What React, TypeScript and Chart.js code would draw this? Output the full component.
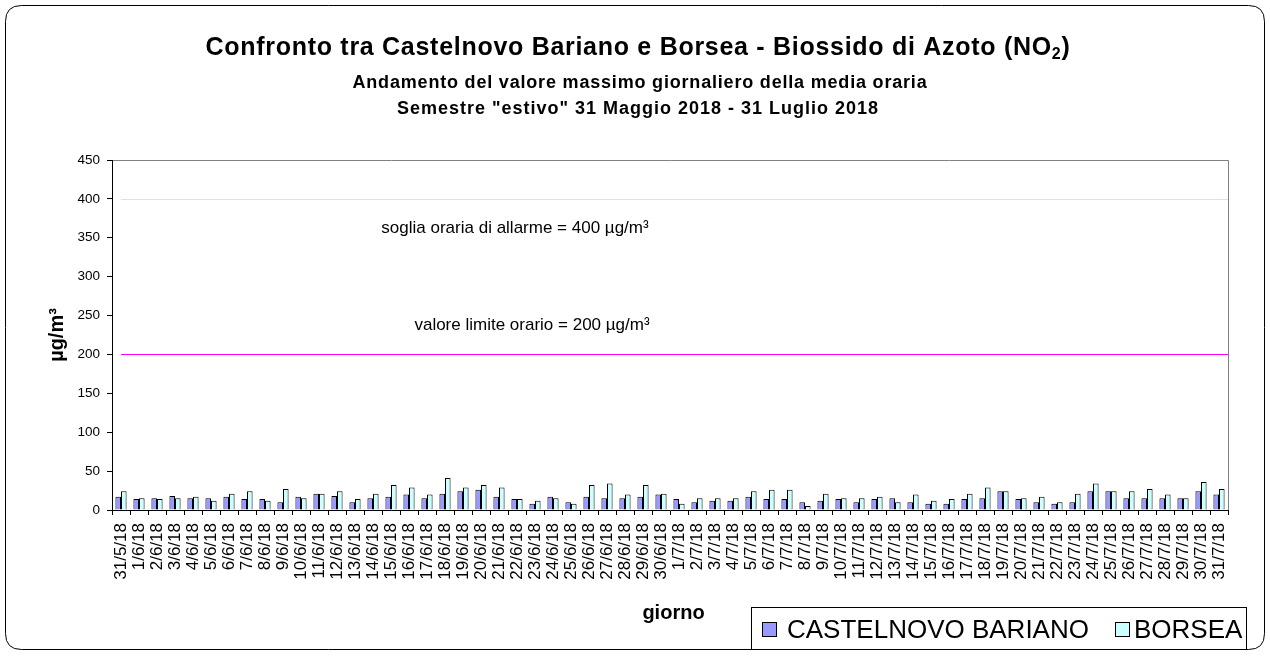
import React, { useEffect, useRef } from "react";
import { Chart, registerables } from "chart.js";

Chart.register(...registerables);

const labels: string[] = [
  "31/5/18", "1/6/18", "2/6/18", "3/6/18", "4/6/18", "5/6/18", "6/6/18", "7/6/18", "8/6/18", "9/6/18",
  "10/6/18", "11/6/18", "12/6/18", "13/6/18", "14/6/18", "15/6/18", "16/6/18", "17/6/18", "18/6/18", "19/6/18",
  "20/6/18", "21/6/18", "22/6/18", "23/6/18", "24/6/18", "25/6/18", "26/6/18", "27/6/18", "28/6/18", "29/6/18",
  "30/6/18", "1/7/18", "2/7/18", "3/7/18", "4/7/18", "5/7/18", "6/7/18", "7/7/18", "8/7/18", "9/7/18",
  "10/7/18", "11/7/18", "12/7/18", "13/7/18", "14/7/18", "15/7/18", "16/7/18", "17/7/18", "18/7/18", "19/7/18",
  "20/7/18", "21/7/18", "22/7/18", "23/7/18", "24/7/18", "25/7/18", "26/7/18", "27/7/18", "28/7/18", "29/7/18",
  "30/7/18", "31/7/18",
];

const castelnovo: number[] = [
  17, 14, 15, 18, 15, 15, 17, 14, 14, 10,
  17, 21, 18, 10, 15, 17, 20, 15, 21, 24,
  26, 17, 14, 8, 17, 10, 17, 15, 15, 17,
  20, 14, 10, 12, 12, 17, 14, 14, 10, 12,
  14, 10, 14, 15, 10, 8, 8, 14, 15, 24,
  14, 10, 8, 10, 24, 24, 15, 15, 15, 15,
  24, 20,
];

const borsea: number[] = [
  24, 15, 14, 15, 17, 12, 21, 24, 12, 27,
  15, 21, 24, 14, 21, 32, 29, 20, 41, 29,
  32, 29, 14, 12, 15, 8, 32, 34, 20, 32,
  21, 8, 15, 15, 15, 24, 26, 26, 5, 21,
  15, 15, 17, 10, 20, 12, 14, 21, 29, 24,
  15, 17, 10, 21, 34, 24, 24, 27, 20, 15,
  36, 27,
];

const yTicks: number[] = [0, 50, 100, 150, 200, 250, 300, 350, 400, 450];
const thresholdValues: number[] = [400, 200];
const thresholdColors: string[] = ["#FFFF00", "#FF00FF"];
const thresholdTexts: string[] = [
  "soglia oraria di allarme = 400 µg/m³",
  "valore limite orario = 200 µg/m³",
];
const seriesNames: string[] = ["CASTELNOVO BARIANO", "BORSEA"];
const seriesColors: string[] = ["#9999FF", "#CCFFFF"];

const FONT = "Arial, 'Liberation Sans', Helvetica, sans-serif";

function fitSpacing(ctx: any, text: string, target: number): number {
  ctx.letterSpacing = "0px";
  const w = ctx.measureText(text).width;
  const n = Math.max(1, text.length);
  return (target - w) / n;
}

function drawFitted(ctx: any, text: string, cx: number, y: number, target: number) {
  const sp = fitSpacing(ctx, text, target);
  ctx.letterSpacing = `${sp}px`;
  ctx.textAlign = "left";
  ctx.fillText(text, cx - target / 2, y);
  ctx.letterSpacing = "0px";
}

const decorPlugin = {
  id: "decor",
  beforeDraw(chart: any) {
    const ctx = chart.ctx;
    const W = chart.width;
    const H = chart.height;
    ctx.save();
    ctx.fillStyle = "#ffffff";
    ctx.fillRect(0, 0, W, H);
    // outer rounded border
    const x0 = 5.5, y0 = 5.5, x1 = W - 5.5, y1 = H - 6.5, r = 16;
    ctx.beginPath();
    ctx.moveTo(x0 + r, y0);
    ctx.lineTo(x1 - r, y0);
    ctx.quadraticCurveTo(x1, y0, x1, y0 + r);
    ctx.lineTo(x1, y1 - r);
    ctx.quadraticCurveTo(x1, y1, x1 - r, y1);
    ctx.lineTo(x0 + r, y1);
    ctx.quadraticCurveTo(x0, y1, x0, y1 - r);
    ctx.lineTo(x0, y0 + r);
    ctx.quadraticCurveTo(x0, y0, x0 + r, y0);
    ctx.closePath();
    ctx.strokeStyle = "#000";
    ctx.lineWidth = 1;
    ctx.stroke();

    // plot box (top and right edges)
    const a = chart.chartArea;
    ctx.strokeStyle = "#808080";
    ctx.beginPath();
    ctx.moveTo(Math.round(a.left) + 0.5, Math.round(a.top) + 0.5);
    ctx.lineTo(Math.round(a.right) + 0.5, Math.round(a.top) + 0.5);
    ctx.lineTo(Math.round(a.right) + 0.5, Math.round(a.bottom) + 0.5);
    ctx.stroke();

    // title with subscript
    ctx.fillStyle = "#000";
    ctx.textBaseline = "alphabetic";
    const mainA = "Confronto tra Castelnovo Bariano e Borsea - Biossido di Azoto (NO";
    const sub = "2";
    const mainB = ")";
    const tf = `bold 25px ${FONT}`;
    const sf = `bold 16px ${FONT}`;
    const targetTitle = 865;
    ctx.font = tf;
    ctx.letterSpacing = "0px";
    const wA0 = ctx.measureText(mainA).width;
    const wB0 = ctx.measureText(mainB).width;
    ctx.font = sf;
    const wS0 = ctx.measureText(sub).width;
    const nChars = mainA.length + sub.length + mainB.length;
    const sp = (targetTitle - (wA0 + wB0 + wS0)) / nChars;
    ctx.letterSpacing = `${sp}px`;
    ctx.font = tf;
    const wA = ctx.measureText(mainA).width;
    ctx.font = sf;
    const wS = ctx.measureText(sub).width;
    const tx = 638 - targetTitle / 2;
    const ty = 55;
    ctx.textAlign = "left";
    ctx.font = tf;
    ctx.fillText(mainA, tx, ty);
    ctx.font = sf;
    ctx.fillText(sub, tx + wA, ty + 4);
    ctx.font = tf;
    ctx.fillText(mainB, tx + wA + wS, ty);
    ctx.letterSpacing = "0px";

    ctx.font = `bold 18px ${FONT}`;
    drawFitted(ctx, "Andamento del valore massimo giornaliero della media oraria", 640, 88, 575);
    drawFitted(ctx, 'Semestre "estivo" 31 Maggio 2018 - 31 Luglio 2018', 638, 114, 482);

    // y axis title
    ctx.save();
    ctx.translate(57, 335);
    ctx.rotate(-Math.PI / 2);
    ctx.font = `bold 20px ${FONT}`;
    ctx.textAlign = "center";
    ctx.textBaseline = "middle";
    ctx.fillText("µg/m³", 0, 0);
    ctx.restore();

    // x axis title
    ctx.font = `bold 20px ${FONT}`;
    ctx.textAlign = "center";
    ctx.textBaseline = "alphabetic";
    ctx.fillText("giorno", 673.5, 619);

    // legend
    ctx.strokeStyle = "#000";
    ctx.lineWidth = 1;
    ctx.strokeRect(751.5, 607.5, 495, 42);
    ctx.font = `26px ${FONT}`;
    ctx.textAlign = "left";
    ctx.textBaseline = "alphabetic";
    const markers = [762, 1115];
    const textX = [787, 1134];
    for (let i = 0; i < 2; i++) {
      ctx.fillStyle = seriesColors[i];
      ctx.fillRect(markers[i] + 0.5, 622.5, 14, 14);
      ctx.strokeStyle = "#000";
      ctx.strokeRect(markers[i] + 0.5, 622.5, 14, 14);
      ctx.fillStyle = "#000";
      ctx.fillText(seriesNames[i], textX[i], 637.5);
    }
    ctx.restore();
  },
  beforeDatasetsDraw(chart: any) {
    const ctx = chart.ctx;
    const a = chart.chartArea;
    const xs = chart.scales.x;
    const ys = chart.scales.y;
    ctx.save();
    ctx.lineWidth = 1;
    const startX = xs.getPixelForValue(0);
    for (let i = 0; i < thresholdValues.length; i++) {
      const y = Math.round(ys.getPixelForValue(thresholdValues[i])) + 0.5;
      ctx.strokeStyle = thresholdColors[i];
      ctx.beginPath();
      ctx.moveTo(startX, y);
      ctx.lineTo(a.right, y);
      ctx.stroke();
    }
    ctx.fillStyle = "#000";
    ctx.font = `17px ${FONT}`;
    ctx.textAlign = "center";
    ctx.textBaseline = "middle";
    ctx.fillText(thresholdTexts[0], 515, 228);
    ctx.fillText(thresholdTexts[1], 532, 325);
    ctx.restore();
  },
};

export default function App() {
  const canvasRef = useRef<HTMLCanvasElement | null>(null);

  useEffect(() => {
    document.body.style.margin = "0";
    const canvas = canvasRef.current;
    if (!canvas) return;
    const chart = new Chart(canvas, {
      type: "bar",
      data: {
        labels,
        datasets: [
          {
            label: seriesNames[0],
            data: castelnovo,
            backgroundColor: seriesColors[0],
            borderColor: "#000",
            borderWidth: 1,
            categoryPercentage: 0.62,
            barPercentage: 1.0,
          },
          {
            label: seriesNames[1],
            data: borsea,
            backgroundColor: seriesColors[1],
            borderColor: "#000",
            borderWidth: 1,
            categoryPercentage: 0.62,
            barPercentage: 1.0,
          },
        ],
      },
      options: {
        responsive: false,
        animation: false,
        devicePixelRatio: 1,
        layout: { padding: { left: 0, top: 160, right: 42, bottom: 0 } },
        plugins: {
          legend: { display: false },
          title: { display: false },
          tooltip: { enabled: false },
        },
        scales: {
          x: {
            afterFit: (s: any) => {
              s.height = 146;
            },
            grid: {
              display: true,
              drawOnChartArea: false,
              drawTicks: true,
              tickLength: 5,
              color: "#000",
              offset: true,
            },
            border: { display: true, color: "#000", width: 1 },
            ticks: {
              autoSkip: false,
              minRotation: 90,
              maxRotation: 90,
              padding: 8,
              color: "#000",
              font: { family: FONT, size: 17 },
            },
          },
          y: {
            min: 0,
            max: 450,
            afterFit: (s: any) => {
              s.width = 112;
            },
            afterBuildTicks: (s: any) => {
              s.ticks = yTicks.map((v) => ({ value: v }));
            },
            grid: {
              display: true,
              drawOnChartArea: false,
              drawTicks: true,
              tickLength: 5,
              color: "#000",
            },
            border: { display: true, color: "#000", width: 1 },
            ticks: {
              padding: 7,
              color: "#000",
              font: { family: FONT, size: 13.5 },
            },
          },
        },
      },
      plugins: [decorPlugin],
    });
    return () => chart.destroy();
  }, []);

  return (
    <canvas
      ref={canvasRef}
      width={1270}
      height={656}
      style={{ display: "block", width: 1270, height: 656 }}
    />
  );
}
